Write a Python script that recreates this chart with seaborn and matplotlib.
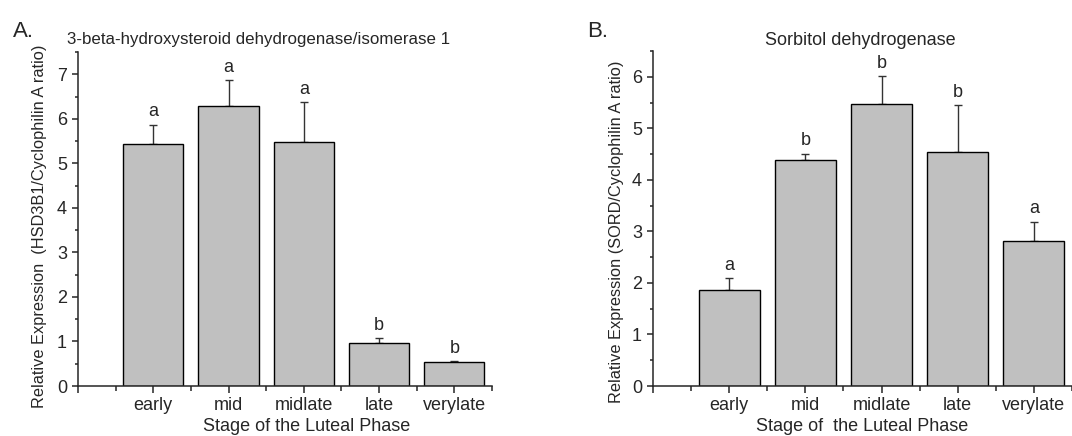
"""
Relative expression of HSD3B1 and SORD across the luteal phase stages.
"""

import matplotlib

matplotlib.use("Agg")

import matplotlib.pyplot as plt
import pandas as pd
import seaborn as sns
from matplotlib.ticker import FixedLocator, MultipleLocator

stages = ["early", "mid", "midlate", "late", "verylate"]

hsd_mean = [5.43, 6.29, 5.48, 0.96, 0.54]
hsd_err = [0.44, 0.58, 0.89, 0.11, 0.02]
hsd_letters = ["a", "a", "a", "b", "b"]

sord_mean = [1.87, 4.38, 5.47, 4.54, 2.82]
sord_err = [0.23, 0.13, 0.54, 0.91, 0.37]
sord_letters = ["a", "b", "b", "b", "a"]

sns.set_style("ticks")
plt.rcParams["font.family"] = ["Liberation Sans", "DejaVu Sans"]

W, H = 1072, 436
fig = plt.figure(figsize=(W / 100, H / 100), dpi=100)


def draw_panel(rect, means, errs, letters, ymax):
    ax = fig.add_axes([rect[0] / W, 1 - rect[3] / H, (rect[2] - rect[0]) / W, (rect[3] - rect[1]) / H])
    df = pd.DataFrame({"Stage": stages, "Value": means})
    sns.barplot(data=df, x="Stage", y="Value", order=stages, color="#c0c0c0",
                saturation=1, edgecolor="black", linewidth=1.0, width=0.8,
                errorbar=None, ax=ax, zorder=2)
    ax.errorbar(range(len(stages)), means, yerr=[[0] * len(errs), errs], fmt="none",
                ecolor="#333333", elinewidth=1.0, capsize=3, capthick=1.0, zorder=1)
    for i, (m, e, lab) in enumerate(zip(means, errs, letters)):
        ax.annotate(lab, (i, m + e), xytext=(0, 3), textcoords="offset points",
                    ha="center", va="bottom", fontsize=13)

    ax.set_xlim(-1, 4.5)
    ax.set_ylim(0, ymax)
    ax.xaxis.set_major_locator(FixedLocator([-1, 0, 1, 2, 3, 4]))
    ax.set_xticklabels([""] + stages)
    ax.xaxis.set_minor_locator(FixedLocator([-0.5, 0.5, 1.5, 2.5, 3.5, 4.5]))
    ax.yaxis.set_major_locator(MultipleLocator(1))
    ax.yaxis.set_minor_locator(MultipleLocator(0.5))
    ax.tick_params(axis="x", which="major", length=5, width=1.1, pad=3, labelsize=13)
    ax.tick_params(axis="x", which="minor", length=3.4, width=1.1)
    ax.tick_params(axis="y", which="major", length=4, width=1.1, pad=4, labelsize=13)
    ax.tick_params(axis="y", which="minor", length=2.2, width=1.1)
    ax.set_xlabel("")
    ax.set_ylabel("")
    for side in ["top", "right"]:
        ax.spines[side].set_visible(False)
    for side in ["left", "bottom"]:
        ax.spines[side].set_linewidth(1.1)
    return ax


draw_panel((78, 52, 492, 386), hsd_mean, hsd_err, hsd_letters, 7.5)
draw_panel((653, 51, 1072, 386), sord_mean, sord_err, sord_letters, 6.5)

fig.text(13 / W, 1 - 37 / H, "A.", fontsize=16, ha="left", va="baseline")
fig.text(587 / W, 1 - 37 / H, "B.", fontsize=16, ha="left", va="baseline")
fig.text(67 / W, 1 - 44 / H, "3-beta-hydroxysteroid dehydrogenase/isomerase 1",
         fontsize=12.2, ha="left", va="baseline")
fig.text(860 / W, 1 - 45 / H, "Sorbitol dehydrogenase", fontsize=13, ha="center", va="baseline")
fig.text(307 / W, 1 - 431 / H, "Stage of the Luteal Phase", fontsize=13, ha="center", va="baseline")
fig.text(862 / W, 1 - 431 / H, "Stage of  the Luteal Phase", fontsize=13, ha="center", va="baseline")
fig.text(40 / W, 1 - 226 / H, "Relative Expression  (HSD3B1/Cyclophilin A ratio)",
         fontsize=11.8, rotation=90, ha="center", va="center")
fig.text(617 / W, 1 - 232 / H, "Relative Expression (SORD/Cyclophilin A ratio)",
         fontsize=11.8, rotation=90, ha="center", va="center")

fig.savefig("out.png", dpi=100)
